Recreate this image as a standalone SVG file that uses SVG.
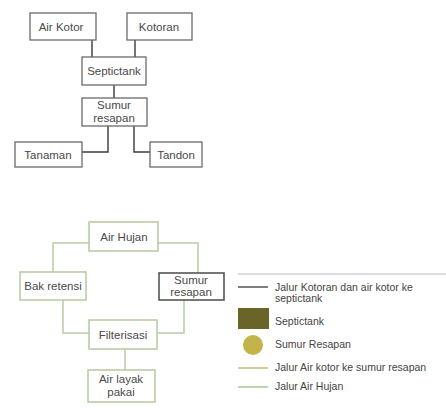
<svg xmlns="http://www.w3.org/2000/svg" width="446" height="408" viewBox="0 0 446 408">
<style>
.bx{fill:#fff;stroke:#6a6a6a;stroke-width:1.3}
.bxg{fill:#fff;stroke:#b5c9a0;stroke-width:1.5}
.bxd{fill:#fff;stroke:#555;stroke-width:1.6}
.t{font-family:"Liberation Sans",Arial,sans-serif;font-size:11.5px;fill:#4a4a4a;text-anchor:middle}
.lg{font-family:"Liberation Sans",Arial,sans-serif;font-size:10.5px;fill:#444}
.ck{fill:none;stroke:#3a3a3a;stroke-width:1.4}
.cg{fill:none;stroke:#b8cca4;stroke-width:1.5}
</style>
<rect width="446" height="408" fill="#fff"/>
<g id="connectors">
<path class="ck" d="M92 40V57M135 40V57M114 85V98M108 126V152H82M134 126V152H150"/>
<path class="cg" d="M89 243H53V272M158 243H198V273M63 300V333H89M184 300V333H157M125 349V370"/>
</g>
<g id="air-kotor"><rect class="bx" x="30" y="13" width="66" height="27"/><text class="t" x="61" y="31">Air Kotor</text></g>
<g id="kotoran"><rect class="bx" x="127" y="13" width="65" height="27"/><text class="t" x="159" y="31">Kotoran</text></g>
<g id="septictank"><rect class="bx" x="82" y="57" width="64" height="28"/><text class="t" x="114" y="75">Septictank</text></g>
<g id="sumur-resapan-1"><rect class="bx" x="82" y="98" width="65" height="28"/><text class="t" x="114" y="109">Sumur</text><text class="t" x="114" y="122">resapan</text></g>
<g id="tanaman"><rect class="bx" x="15" y="142" width="67" height="25"/><text class="t" x="48" y="159">Tanaman</text></g>
<g id="tandon"><rect class="bx" x="150" y="142" width="52" height="25"/><text class="t" x="176" y="159">Tandon</text></g>
<g id="air-hujan"><rect class="bxg" x="89" y="222" width="69" height="29"/><text class="t" x="124" y="241">Air Hujan</text></g>
<g id="bak-retensi"><rect class="bxg" x="20" y="272" width="66" height="28"/><text class="t" x="53" y="290">Bak retensi</text></g>
<g id="sumur-resapan-2"><rect class="bxd" x="159" y="273" width="65" height="27"/><text class="t" x="191" y="284">Sumur</text><text class="t" x="191" y="296">resapan</text></g>
<g id="filterisasi"><rect class="bxg" x="89" y="320" width="68" height="29"/><text class="t" x="123" y="339">Filterisasi</text></g>
<g id="air-layak-pakai"><rect class="bxg" x="88" y="370" width="67" height="32"/><text class="t" x="121" y="383">Air layak</text><text class="t" x="121" y="396">pakai</text></g>
<g id="legend">
<line x1="238" y1="274" x2="446" y2="274" stroke="#bbb" stroke-width="1.2"/>
<line x1="238" y1="287" x2="268" y2="287" stroke="#555" stroke-width="1.5"/>
<text class="lg" x="275" y="291">Jalur Kotoran dan air kotor ke</text>
<text class="lg" x="275" y="302">septictank</text>
<rect x="238" y="308" width="31" height="21" fill="#6b6428"/>
<text class="lg" x="275" y="325">Septictank</text>
<circle cx="253" cy="345" r="10" fill="#c2b44a"/>
<text class="lg" x="275" y="348">Sumur Resapan</text>
<line x1="238" y1="368" x2="268" y2="368" stroke="#c4ba74" stroke-width="1.5"/>
<text class="lg" x="275" y="371">Jalur Air kotor ke sumur resapan</text>
<line x1="238" y1="387" x2="268" y2="387" stroke="#a9c895" stroke-width="1.5"/>
<text class="lg" x="275" y="390">Jalur Air Hujan</text>
</g>
</svg>
